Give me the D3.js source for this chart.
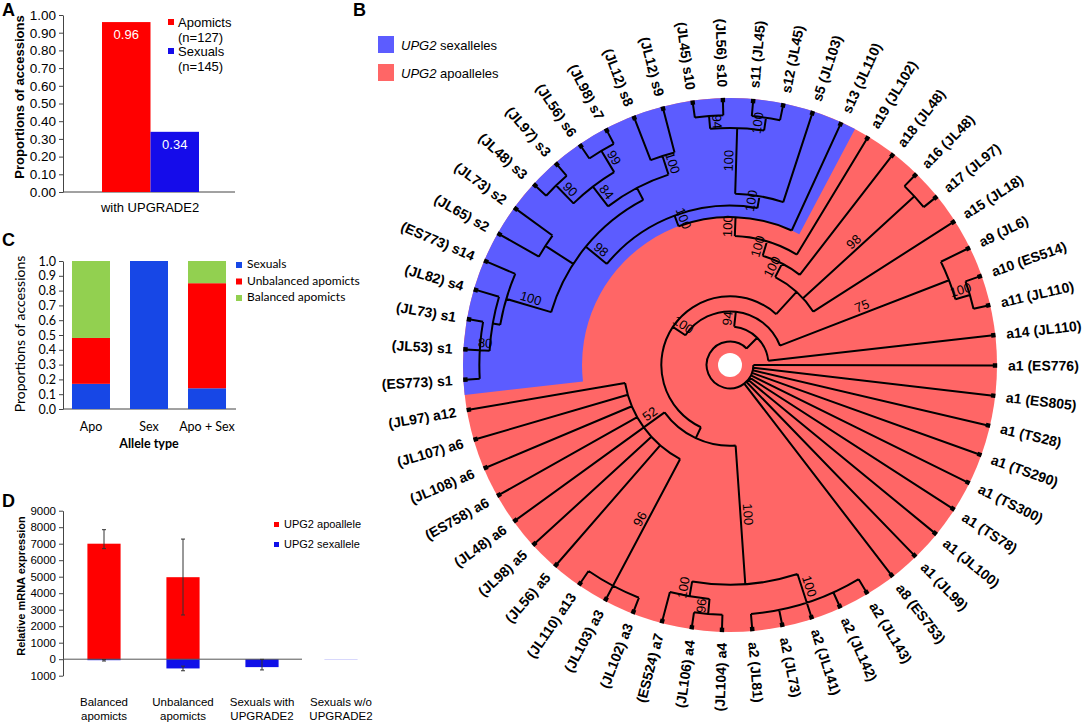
<!DOCTYPE html>
<html>
<head>
<meta charset="utf-8">
<script src="https://cdn.jsdelivr.net/npm/d3@7"></script>
<style>
body { margin: 0; background: #fff; }
svg { display: block; }
</style>
</head>
<body>
<svg id="fig" width="1084" height="724"></svg>
<script>
// ---------- data: panel A
var aGroups = ["Apomicts", "Sexuals"];
var aCounts = ["(n=127)", "(n=145)"];
var aValues = [0.96, 0.34];
var aTicks = d3.range(0, 1.0001, 0.1);

// ---------- data: panel C
var cCats = ["Apo", "Sex", "Apo + Sex"];
var cSeries = ["Sexuals", "Unbalanced apomicts", "Balanced apomicts"];
var cSexuals = [0.17, 1.0, 0.14];
var cUnbalanced = [0.31, 0, 0.71];
var cBalanced = [0.52, 0, 0.15];
var cTicks = d3.range(0, 1.0001, 0.1);

// ---------- data: panel D (error bar ends)
var dCats = [["Balanced", "apomicts"], ["Unbalanced", "apomicts"], ["Sexuals with", "UPGRADE2"], ["Sexuals w/o", "UPGRADE2"]];
var dSeries = ["UPG2 apoallele", "UPG2 sexallele"];
var dApo = [7000, 4970, 0, 0];
var dApoLo = [6700, 2680, null, null];
var dApoHi = [7850, 7280, null, null];
var dSex = [-60, -560, -480, -10];
var dSexLo = [-110, -700, -650, null];
var dSexHi = [-20, -420, -10, null];
var dTicks = d3.range(-1000, 9001, 1000);

// ---------- data: panel B (tips in clockwise order starting at (ES773) s1)
var tipNames = [
  ["s1", "ES773"], ["s1", "JL53"], ["s1", "JL73"], ["s4", "JL82"], ["s14", "ES773"],
  ["s2", "JL65"], ["s2", "JL73"], ["s3", "JL48"], ["s3", "JL97"], ["s6", "JL56"],
  ["s7", "JL98"], ["s8", "JL12"], ["s9", "JL12"], ["s10", "JL45"], ["s10", "JL56"],
  ["s11", "JL45"], ["s12", "JL45"], ["s5", "JL103"], ["s13", "JL110"], ["a19", "JL102"],
  ["a18", "JL48"], ["a16", "JL48"], ["a17", "JL97"], ["a15", "JL18"], ["a9", "JL6"],
  ["a10", "ES514"], ["a11", "JL110"], ["a14", "JL110"], ["a1", "ES776"], ["a1", "ES805"],
  ["a1", "TS28"], ["a1", "TS290"], ["a1", "TS300"], ["a1", "TS78"], ["a1", "JL100"],
  ["a1", "JL99"], ["a8", "ES753"], ["a2", "JL143"], ["a2", "JL142"], ["a2", "JL141"],
  ["a2", "JL73"], ["a2", "JL81"], ["a4", "JL104"], ["a4", "JL106"], ["a7", "ES524"],
  ["a3", "JL102"], ["a3", "JL103"], ["a13", "JL110"], ["a5", "JL56"], ["a5", "JL98"],
  ["a6", "JL48"], ["a6", "ES758"], ["a6", "JL108"], ["a6", "JL107"], ["a12", "JL97"]
];

// internal node: level (steps in from the tips), bootstrap, children (numbers = tips)
function N(lv, bs, kids) { return { lv: lv, bs: bs, kids: kids }; }

var sexClade = N(7.75, 100, [
  N(7, 100, [
    N(5.2, 98, [
      N(2.1, 100, [N(1.6, null, [N(0.95, 80, [1, 2, 3]), 4]), 5]),
      N(3, null, [6, 7]),
      N(4.3, null, [
        N(2.65, 84, [N(1, 90, [8, 9]), N(1, 99, [10, 11])]),
        N(3, 100, [12, 13])
      ])
    ]),
    N(6.2, 100, [
      N(1.85, 100, [N(1, 94, [14, 15]), N(1, 100, [16, 17])]),
      18
    ])
  ]),
  19
]);

var tree = N(16, null, [29, 30, 31, 32, 33, 34, 35, 36, 37,
  N(15, null, [
    N(14, 94, [
      N(13, 100, [
        N(12.2, null, [
          N(3, 100, [N(1, 100, [38, 39, 40, 41, 42]), N(2, 100, [N(1, 96, [43, 44]), 45])]),
          N(10.5, 52, [N(1, 96, [46, 47, 48]), 49, 50, 51, 52, 53, 54, 55])
        ]),
        N(11, null, [
          N(10, 100, [N(9, 100, [sexClade, 20]), 21]),
          N(1, 98, [22, 23]),
          24
        ])
      ]),
      N(2, 75, [25, N(1, 100, [26, 27])])
    ]),
    28
  ])
]);

// ---------- drawing
var FONT = '"Liberation Sans", Arial, Helvetica, sans-serif';
var FONT_C = 'Lato, "Open Sans", sans-serif';
var svg = d3.select("#fig").style("font-family", FONT);

function styleAxis(g, size) {
  g.select(".domain").attr("stroke", "#444");
  g.selectAll(".tick line").attr("stroke", "#444");
  g.selectAll(".tick text").attr("fill", "#000").style("font-size", size + "px");
}

function panelLabel(t, x, y) {
  svg.append("text").attr("x", x).attr("y", y).text(t)
    .style("font-size", "18px").style("font-weight", "bold");
}

// ===== Panel A
(function () {
  var g = svg.append("g");
  var y = d3.scaleLinear().domain([0, 1]).range([192, 15]);
  var x = d3.scaleBand().domain(aGroups).range([102, 199]);
  var col = d3.scaleOrdinal().domain(aGroups).range(["#ff0000", "#150cea"]);

  g.append("g").attr("transform", "translate(63,0)")
    .call(d3.axisLeft(y).tickValues(aTicks).tickFormat(d3.format(".2f")).tickSize(4).tickSizeOuter(0))
    .call(styleAxis, 13.5);
  g.append("line").attr("x1", 63).attr("x2", 235).attr("y1", y(0)).attr("y2", y(0)).attr("stroke", "#444");

  g.selectAll("rect.bar").data(aValues).join("rect").attr("class", "bar")
    .attr("x", function (d, i) { return x(aGroups[i]); })
    .attr("width", x.bandwidth())
    .attr("y", function (d) { return y(d); })
    .attr("height", function (d) { return y(0) - y(d); })
    .attr("fill", function (d, i) { return col(aGroups[i]); });
  g.selectAll("text.val").data(aValues).join("text").attr("class", "val")
    .attr("x", function (d, i) { return x(aGroups[i]) + x.bandwidth() / 2; })
    .attr("y", function (d) { return y(d) + 17; })
    .attr("text-anchor", "middle").attr("fill", "#fff").style("font-size", "13px")
    .text(function (d) { return d.toFixed(2); });

  g.append("text").attr("x", 150).attr("y", 212).attr("text-anchor", "middle")
    .style("font-size", "13px").text("with UPGRADE2");
  g.append("text").attr("transform", "translate(24,97) rotate(-90)").attr("text-anchor", "middle")
    .style("font-size", "13px").style("font-weight", "bold").text("Proportions of accessions");

  aGroups.forEach(function (k, i) {
    var y0 = 18 + i * 29;
    g.append("rect").attr("x", 168).attr("y", y0 + 1).attr("width", 6).attr("height", 6).attr("fill", col(k));
    g.append("text").attr("x", 178).attr("y", y0 + 9).style("font-size", "13px").text(k);
    g.append("text").attr("x", 178).attr("y", y0 + 24).style("font-size", "13px").text(aCounts[i]);
  });
  panelLabel("A", 2, 16);
})();

// ===== Panel C
(function () {
  var g = svg.append("g");
  var y = d3.scaleLinear().domain([0, 1]).range([409, 261]);
  var x = d3.scaleBand().domain(cCats).range([63, 235]).paddingInner(0.345).paddingOuter(0.155);
  var keys = ["s", "u", "b"];
  var col = d3.scaleOrdinal().domain(keys).range(["#1747e6", "#ff0000", "#92d050"]);
  var rows = cCats.map(function (c, i) { return { cat: c, s: cSexuals[i], u: cUnbalanced[i], b: cBalanced[i] }; });
  var stack = d3.stack().keys(keys)(rows);

  g.append("g").attr("transform", "translate(63,0)")
    .call(d3.axisLeft(y).tickValues(cTicks).tickFormat(d3.format(".1f")).tickSize(4).tickSizeOuter(0))
    .call(styleAxis, 12.5)
    .selectAll(".tick text").style("font-family", FONT_C);
  g.append("line").attr("x1", 63).attr("x2", 236).attr("y1", y(0)).attr("y2", y(0)).attr("stroke", "#444");

  g.selectAll("g.ser").data(stack).join("g").attr("class", "ser").attr("fill", function (s) { return col(s.key); })
    .selectAll("rect").data(function (s) { return s; }).join("rect")
    .attr("x", function (d) { return x(d.data.cat); })
    .attr("width", x.bandwidth())
    .attr("y", function (d) { return y(d[1]); })
    .attr("height", function (d) { return y(d[0]) - y(d[1]); });

  g.selectAll("text.cat").data(cCats).join("text").attr("class", "cat")
    .attr("x", function (d) { return x(d) + x.bandwidth() / 2; }).attr("y", 431)
    .attr("text-anchor", "middle").style("font-family", FONT_C).style("font-size", "12.5px").text(function (d) { return d; });
  g.append("text").attr("x", 149).attr("y", 448).attr("text-anchor", "middle")
    .style("font-family", FONT_C).style("font-size", "12.5px").style("font-weight", "bold").text("Allele type");
  g.append("text").attr("transform", "translate(25,334) rotate(-90)").attr("text-anchor", "middle")
    .style("font-family", FONT_C).style("font-size", "14px").text("Proportions of accessions");

  cSeries.forEach(function (k, i) {
    var yy = 262 + i * 16.5;
    g.append("rect").attr("x", 236).attr("y", yy).attr("width", 6).attr("height", 6).attr("fill", col(keys[i]));
    g.append("text").attr("x", 247).attr("y", yy + 6).style("font-family", FONT_C).style("font-size", "12px").text(k);
  });
  panelLabel("C", 2, 246);
})();

// ===== Panel D
(function () {
  var g = svg.append("g");
  var y = d3.scaleLinear().domain([-1000, 9000]).range([675.7, 510.7]);
  var x = d3.scaleBand().domain(d3.range(dCats.length)).range([64.5, 380.5]).paddingInner(0.58).paddingOuter(0.29);
  var red = "#ff0000", blue = "#1010e8";

  g.append("g").attr("transform", "translate(63,0)")
    .call(d3.axisLeft(y).tickValues(dTicks).tickFormat(function (d) { return Math.abs(d); }).tickSize(4).tickSizeOuter(0))
    .call(styleAxis, 11.5);

  g.selectAll("rect.apo").data(dApo).join("rect").attr("class", "apo")
    .attr("x", function (d, i) { return x(i); }).attr("width", x.bandwidth())
    .attr("y", function (d) { return y(d); }).attr("height", function (d) { return y(0) - y(d); })
    .attr("fill", red);
  g.selectAll("rect.sex").data(dSex).join("rect").attr("class", "sex")
    .attr("x", function (d, i) { return x(i); }).attr("width", x.bandwidth())
    .attr("y", y(0)).attr("height", function (d) { return y(d) - y(0); })
    .attr("fill", blue);
  g.append("line").attr("x1", 63).attr("x2", 302).attr("y1", y(0)).attr("y2", y(0)).attr("stroke", "#555");

  function errBars(lo, hi) {
    lo.forEach(function (l, i) {
      if (l == null) return;
      var cxp = x(i) + x.bandwidth() / 2;
      var e = g.append("g").attr("stroke", "#333").attr("stroke-width", 1);
      e.append("line").attr("x1", cxp).attr("x2", cxp).attr("y1", y(hi[i])).attr("y2", y(l));
      [l, hi[i]].forEach(function (t) {
        e.append("line").attr("x1", cxp - 2).attr("x2", cxp + 2).attr("y1", y(t)).attr("y2", y(t));
      });
    });
  }
  errBars(dApoLo, dApoHi);
  errBars(dSexLo, dSexHi);

  dCats.forEach(function (c, i) {
    var t = g.append("text").attr("text-anchor", "middle").style("font-size", "11.5px");
    c.forEach(function (line, j) {
      t.append("tspan").attr("x", x(i) + x.bandwidth() / 2).attr("y", 706 + j * 14).text(line);
    });
  });
  g.append("text").attr("transform", "translate(25,586) rotate(-90)").attr("text-anchor", "middle")
    .style("font-size", "11px").style("font-weight", "bold").text("Relative mRNA expression");

  [red, blue].forEach(function (c, i) {
    g.append("rect").attr("x", 274).attr("y", 522 + i * 20).attr("width", 5).attr("height", 5).attr("fill", c);
    g.append("text").attr("x", 284).attr("y", 528 + i * 20).style("font-size", "11px").text(dSeries[i]);
  });
  panelLabel("D", 2, 507);
})();

// ===== Panel B: circular tree
(function () {
  var g = svg.append("g");
  var cx = 730, cy = 365, R = 267, tipR = 265, labR = 278;
  var RED = "#ff6666", BLUE = "#5c5cff";
  var rad = d3.scaleLinear().domain([0, 16]).range([tipR, 23.4]);

  var root = d3.hierarchy(tree, function (d) { return typeof d === "number" ? null : d.kids; });
  var leaves = root.leaves();
  var ang = d3.scaleLinear().domain([0, leaves.length]).range([90.1, 450.1]);
  leaves.forEach(function (n, i) { n.ang = ang(i); n.r = tipR; n.tip = tipNames[n.data - 1]; });
  root.eachAfter(function (n) {
    if (!n.children) return;
    n.ang = (n.children[0].ang + n.children[n.children.length - 1].ang) / 2;
    n.r = rad(n.data.lv);
  });
  function pt(r, a) { var t = a * Math.PI / 180; return [cx + r * Math.sin(t), cy - r * Math.cos(t)]; }

  // background: red disc, blue sector for the sexallele clade
  g.append("circle").attr("cx", cx).attr("cy", cy).attr("r", R).attr("fill", RED);
  var sexNode = root.descendants().find(function (n) { return n.data === sexClade; });
  var sexTips = sexNode.leaves();
  var step = 360 / leaves.length;
  var a0 = d3.min(sexTips, function (n) { return n.ang; }) - step / 2;
  var a1 = d3.max(sexTips, function (n) { return n.ang; }) + step / 2;
  g.append("path").attr("transform", "translate(" + cx + "," + cy + ")")
    .attr("d", d3.arc()({ innerRadius: sexNode.r, outerRadius: R, startAngle: a0 * Math.PI / 180, endAngle: a1 * Math.PI / 180 }))
    .attr("fill", BLUE);
  g.append("circle").attr("cx", cx).attr("cy", cy).attr("r", 12).attr("fill", "#fff");

  // branches
  var p = d3.path();
  root.descendants().forEach(function (n) {
    if (n.parent) {
      var s = pt(n.parent.r, n.ang), e = pt(n.r, n.ang);
      p.moveTo(s[0], s[1]); p.lineTo(e[0], e[1]);
    }
    if (n.children) {
      var b0 = n.children[0].ang, b1 = n.children[n.children.length - 1].ang;
      var st = pt(n.r, b0);
      p.moveTo(st[0], st[1]);
      p.arc(cx, cy, n.r, (b0 - 90) * Math.PI / 180, (b1 - 90) * Math.PI / 180, false);
    }
  });
  g.append("path").attr("d", p.toString()).attr("fill", "none").attr("stroke", "#000").attr("stroke-width", 2);

  // tip squares and labels
  leaves.forEach(function (n) {
    var q = pt(n.r, n.ang);
    g.append("rect").attr("x", -2.2).attr("y", -2.2).attr("width", 4.4).attr("height", 4.4).attr("fill", "#000")
      .attr("transform", "translate(" + q + ") rotate(" + n.ang + ")");
    var a = ((n.ang % 360) + 360) % 360;
    var right = a < 180;
    var l = pt(labR, n.ang);
    g.append("text").attr("transform", "translate(" + l + ") rotate(" + (right ? a - 90 : a + 90) + ")")
      .attr("text-anchor", right ? "start" : "end").attr("dy", "0.36em")
      .style("font-size", "14px").style("font-weight", "bold")
      .text(right ? n.tip[0] + " (" + n.tip[1] + ")" : "(" + n.tip[1] + ") " + n.tip[0]);
  });

  // bootstrap values at the middle of each supported branch
  root.descendants().forEach(function (n) {
    if (!n.parent || !n.children || n.data.bs == null) return;
    var a = ((n.ang % 360) + 360) % 360;
    var right = a < 180;
    var m = pt((n.r + n.parent.r) / 2, n.ang);
    g.append("text").attr("transform", "translate(" + m + ") rotate(" + (right ? a - 90 : a + 90) + ")")
      .attr("text-anchor", "middle").attr("dy", "-3")
      .style("font-size", "13px").text(n.data.bs);
  });

  // legend
  var lg = [["sexalleles", BLUE], ["apoalleles", RED]];
  lg.forEach(function (d, i) {
    g.append("rect").attr("x", 378).attr("y", 36 + i * 28).attr("width", 16).attr("height", 17).attr("fill", d[1]);
    var t = g.append("text").attr("x", 401).attr("y", 50 + i * 28).style("font-size", "13px");
    t.append("tspan").style("font-style", "italic").text("UPG2");
    t.append("tspan").text(" " + d[0]);
  });
  panelLabel("B", 353, 16);
})();
</script>
</body>
</html>
